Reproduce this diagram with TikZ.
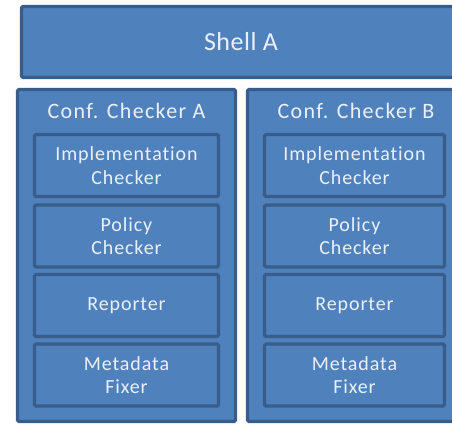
\documentclass[tikz,border=0pt]{standalone}
\usepackage{fontspec}
\setmainfont{Carlito}
\newfontfamily\shellfont[LetterSpace=2, Ligatures=NoCommon]{Carlito}
\newfontfamily\titlefont[LetterSpace=6, Ligatures=NoCommon]{Carlito}
\newfontfamily\itemfont[LetterSpace=4.5, Ligatures=NoCommon]{Carlito}
\definecolor{boxfill}{HTML}{4F81BD}
\definecolor{boxline}{HTML}{385D8A}
\definecolor{boxtext}{HTML}{EAF0F8}
\tikzset{
  block/.style={draw=boxline, line width=3.2pt, fill=boxfill, rounded corners=1.5pt,
    inner sep=0pt, outer sep=0pt, text=boxtext, align=center},
  shellbox/.style={block, minimum width=439pt, minimum height=71pt,
    font=\shellfont\fontsize{26}{31}\selectfont},
  checkerbox/.style={block, minimum width=#1, minimum height=332pt},
  titletext/.style={text=boxtext, inner sep=0pt,
    font=\titlefont\fontsize{22}{26}\selectfont},
  partbox/.style={block, minimum width=#1, minimum height=62pt,
    font=\itemfont\fontsize{20}{23.5}\selectfont},
}
\begin{document}
\begin{tikzpicture}[x=1pt, y=-1pt]
  \useasboundingbox (0,0) rectangle (452,424);
  \clip (0,0) rectangle (452,424);

  % top-level shell
  \node[shellbox] (shell) at (241,42) {Shell A};

  % the two conformance checkers
  \node[checkerbox=218pt] (ccA) at (126.5,255.5) {};
  \node[checkerbox=215pt] (ccB) at (355,255.5) {};
  \node[titletext] (ccAtitle) at (126.5,111) {Conf. Checker A};
  \node[titletext] (ccBtitle) at (356,111) {Conf. Checker B};

  % components of checker A
  \node[partbox=184pt] (implA)  at (126.5,165.5) {Implementation\\Checker};
  \node[partbox=184pt] (polA)   at (126.5,236)   {Policy\\Checker};
  \node[partbox=184pt] (repA)   at (126.5,305.5) {Reporter};
  \node[partbox=184pt] (metaA)  at (126.5,375)   {Metadata\\Fixer};

  % components of checker B
  \node[partbox=180pt] (implB)  at (354.5,165.5) {Implementation\\Checker};
  \node[partbox=180pt] (polB)   at (354.5,236)   {Policy\\Checker};
  \node[partbox=180pt] (repB)   at (354.5,305.5) {Reporter};
  \node[partbox=180pt] (metaB)  at (354.5,375)   {Metadata\\Fixer};
\end{tikzpicture}
\end{document}
